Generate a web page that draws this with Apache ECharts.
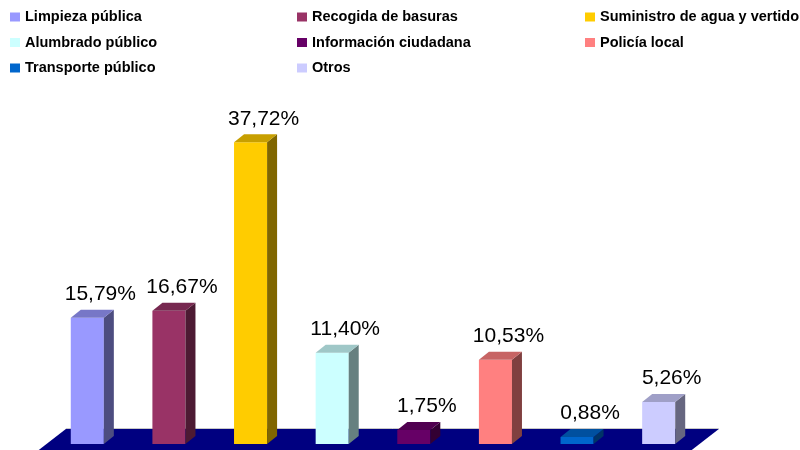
<!DOCTYPE html>
<html>
<head>
<meta charset="utf-8">
<script src="https://cdn.jsdelivr.net/npm/echarts@6/dist/echarts.min.js"></script>
<style>html,body{margin:0;padding:0;background:#fff}#c{width:800px;height:450px}</style>
</head>
<body>
<div id="c"></div>
<script>
const categories = ['Limpieza pública','Recogida de basuras','Suministro de agua y vertido','Alumbrado público','Información ciudadana','Policía local','Transporte público','Otros'];
const values = [15.79, 16.67, 37.72, 11.40, 1.75, 10.53, 0.88, 5.26];
const colors = ['#9999FF','#993366','#FFCC00','#CCFFFF','#660066','#FF8080','#0066CC','#CCCCFF'];
const legendColumns = [[0,3,6],[1,4,7],[2,5]];

const FONT = '"Liberation Sans", Arial, sans-serif';
const DX = 10, DY = 8;

function shade(hex, f) {
  const n = parseInt(hex.slice(1), 16);
  const r = Math.round(((n >> 16) & 255) * f), g = Math.round(((n >> 8) & 255) * f), b = Math.round((n & 255) * f);
  return 'rgb(' + r + ',' + g + ',' + b + ')';
}
function fmt(v) { return v.toFixed(2).replace('.', ',') + '%'; }

const chart = echarts.init(document.getElementById('c'), null, {renderer: 'canvas'});

const floorSeries = {
  type: 'custom',
  name: '__floor',
  z: 1,
  silent: true,
  data: [[0, 0]],
  renderItem: function (params, api) {
    const cs = params.coordSys;
    const B = api.coord([0, 0])[1];
    const L = cs.x, R = cs.x + cs.width;
    const k = 1.29;
    const front = 6, back = 15;
    return {
      type: 'group',
      children: [
        {type: 'polygon', shape: {points: [[L - front * k, B + front], [R - front * k, B + front], [R + back * k, B - back], [L + back * k, B - back]]}, style: {fill: '#000080'}},
        {type: 'line', shape: {x1: L + back * k, y1: B - back - 0.5, x2: R + back * k, y2: B - back - 0.5}, style: {stroke: '#c8c8c8', lineWidth: 1}}
      ]
    };
  }
};

const barSeries = categories.map(function (name, i) {
  return {
    type: 'custom',
    name: name,
    z: 2,
    itemStyle: {color: colors[i]},
    data: [[i, values[i]]],
    renderItem: function (params, api) {
      const x = api.value(0), v = api.value(1);
      const base = api.coord([x, 0]);
      const top = api.coord([x, v]);
      const bw = api.size([1, 0])[0] * 0.405;
      const x0 = base[0] - bw / 2, x1 = base[0] + bw / 2;
      const yT = top[1], yB = base[1];
      const c = colors[i];
      return {
        type: 'group',
        children: [
          {type: 'rect', shape: {x: x0, y: yT, width: bw, height: yB - yT}, style: {fill: c}},
          {type: 'polygon', shape: {points: [[x1, yB], [x1 + DX, yB - DY], [x1 + DX, yT - DY], [x1, yT]]}, style: {fill: shade(c, 0.5)}},
          {type: 'polygon', shape: {points: [[x0, yT], [x1, yT], [x1 + DX, yT - DY], [x0 + DX, yT - DY]]}, style: {fill: shade(c, 0.78)}},
          {type: 'text', x: base[0] + 13, y: yT - DY - 5, style: {text: fmt(v), font: '21px ' + FONT, fill: '#000', textAlign: 'center', textVerticalAlign: 'bottom'}}
        ]
      };
    }
  };
});

const legendLefts = [10, 297, 585];
const legends = legendColumns.map(function (col, c) {
  return {
    orient: 'vertical',
    left: legendLefts[c],
    top: 9,
    padding: 0,
    itemGap: 9.5,
    itemWidth: 10,
    itemHeight: 9,
    icon: 'rect',
    selectedMode: false,
    data: col.map(function (j) { return {name: categories[j], itemStyle: {color: colors[j]}}; }),
    textStyle: {fontFamily: FONT, fontSize: 14.5, fontWeight: 'bold', color: '#000', lineHeight: 16}
  };
});

chart.setOption({
  animation: false,
  backgroundColor: '#fff',
  legend: legends,
  grid: {left: 46.5, width: 653, top: 124, bottom: 6, containLabel: false},
  xAxis: {type: 'category', data: categories, show: false},
  yAxis: {type: 'value', min: 0, max: 40, show: false},
  series: [floorSeries].concat(barSeries)
});
</script>
</body>
</html>
